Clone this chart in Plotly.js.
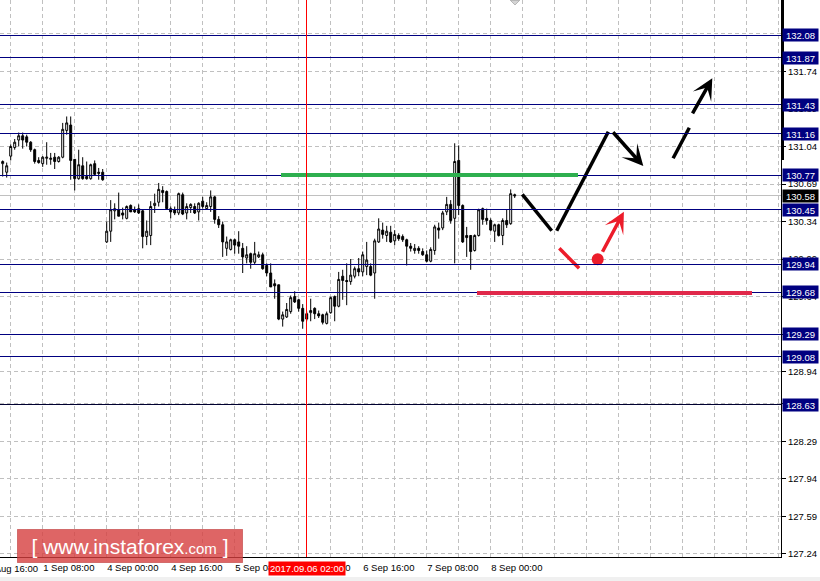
<!DOCTYPE html>
<html><head><meta charset="utf-8">
<script src="https://cdn.plot.ly/plotly-3.0.1.min.js"></script>
<style>html,body{margin:0;padding:0;background:#fff;}#chart{width:820px;height:581px;}
#chart .shapelayer path{shape-rendering:crispEdges;}</style>
</head><body><div id="chart"></div>
<script>
// H1 candles, x = trading-hour index (0 = 31 Aug 22:00)
const open=[130.88,130.80,130.95,131.03,131.10,131.14,131.13,131.08,131.01,130.91,
130.88,130.93,130.92,130.94,130.90,130.94,131.19,131.24,130.92,130.74,
130.86,130.76,130.74,130.88,130.80,130.80,130.15,130.25,130.44,130.45,
130.42,130.37,130.49,130.45,130.46,130.44,130.20,130.21,130.49,130.52,
130.63,130.62,130.46,130.45,130.42,130.59,130.42,130.47,130.48,130.43,
130.53,130.46,130.48,130.57,130.36,130.31,130.09,130.08,130.17,130.15,
130.09,130.00,130.04,129.96,130.01,130.03,129.93,129.86,129.76,129.75,
129.43,129.45,129.50,129.64,129.61,129.53,129.48,129.49,129.53,129.48,
129.47,129.39,129.49,129.64,129.55,129.83,129.79,129.78,129.83,129.90,
129.87,129.92,129.92,129.86,130.15,130.26,130.21,130.24,130.16,130.21,
130.20,130.17,130.11,130.07,130.09,130.06,130.03,129.97,130.07,130.28,
130.28,130.43,130.50,130.37,130.91,130.49,130.21,130.21,130.07,130.21,
130.46,130.37,130.35,130.25,130.31,130.21,130.35,130.32,130.59];
const high=[130.91,130.89,131.06,131.11,131.17,131.17,131.15,131.09,131.02,130.94,
130.95,131.08,130.98,130.98,130.95,131.26,131.32,131.32,130.92,131.01,
130.94,130.90,130.88,130.91,130.84,130.83,130.34,130.54,130.51,130.61,
130.47,130.49,130.50,130.48,130.50,130.45,130.35,130.53,130.60,130.70,
130.67,130.63,130.48,130.48,130.61,130.61,130.51,130.51,130.51,130.52,
130.57,130.52,130.63,130.58,130.39,130.34,130.20,130.18,130.18,130.25,
130.14,130.11,130.05,130.15,130.06,130.05,129.95,129.95,129.80,129.75,
129.50,129.58,129.65,129.69,129.62,129.57,129.50,129.62,129.54,129.51,
129.48,129.50,129.64,129.65,129.87,129.89,129.95,129.99,129.92,130.00,
130.06,130.15,129.95,130.18,130.37,130.33,130.30,130.30,130.26,130.23,
130.22,130.18,130.14,130.13,130.11,130.09,130.07,130.10,130.31,130.33,
130.44,130.57,130.54,131.07,131.05,130.50,130.29,130.21,130.22,130.46,
130.47,130.46,130.37,130.32,130.32,130.37,130.45,130.64,130.60];
const low=[130.76,130.75,130.91,131.01,131.04,131.02,131.04,130.99,130.88,130.88,
130.85,130.87,130.87,130.83,130.89,130.93,131.15,130.73,130.63,130.73,
130.73,130.73,130.73,130.77,130.73,130.72,130.14,130.15,130.36,130.39,
130.36,130.36,130.43,130.42,130.41,130.09,130.12,130.12,130.42,130.48,
130.52,130.45,130.37,130.40,130.40,130.40,130.36,130.42,130.41,130.35,
130.46,130.45,130.43,130.32,130.28,130.01,130.02,130.07,130.04,130.04,
129.86,129.95,129.90,129.94,130.00,129.89,129.83,129.73,129.62,129.42,
129.36,129.44,129.48,129.58,129.50,129.34,129.41,129.41,129.43,129.44,
129.38,129.38,129.48,129.41,129.54,129.61,129.56,129.75,129.81,129.83,
129.83,129.84,129.83,129.62,130.14,130.18,130.15,130.14,130.12,130.16,
130.15,129.93,130.06,130.04,130.04,130.02,129.96,129.96,130.03,130.18,
130.26,130.40,130.32,129.95,130.40,130.14,130.01,129.89,130.06,130.20,
130.31,130.31,130.25,130.15,130.20,130.12,130.28,130.31,130.56];
const close=[130.90,130.86,131.04,131.08,131.14,131.10,131.08,131.01,130.90,130.89,
130.94,130.94,130.93,130.90,130.94,131.20,131.26,130.91,130.74,130.87,
130.74,130.74,130.87,130.78,130.79,130.73,130.25,130.45,130.46,130.39,
130.40,130.48,130.43,130.43,130.42,130.20,130.25,130.48,130.51,130.64,
130.61,130.46,130.43,130.42,130.60,130.41,130.48,130.50,130.42,130.51,
130.48,130.49,130.57,130.36,130.31,130.15,130.15,130.17,130.12,130.11,
130.01,130.03,129.96,130.04,130.03,129.90,129.86,129.73,129.74,129.43,
129.47,129.52,129.63,129.59,129.53,129.41,129.43,129.51,129.48,129.46,
129.40,129.48,129.63,129.55,129.80,129.79,129.78,129.84,129.90,129.87,
130.03,129.98,129.84,130.16,130.27,130.22,130.25,130.15,130.22,130.18,
130.17,130.11,130.09,130.09,130.07,130.03,129.97,130.08,130.29,130.26,
130.42,130.50,130.35,130.90,130.49,130.15,130.19,130.06,130.21,130.45,
130.36,130.35,130.26,130.31,130.21,130.35,130.31,130.60,130.58];
const barIndex=open.map((_,i)=>i);

const timeTickVals=[10,26,42,58,74,90,106,122];
const timeTickText=['1 Sep 08:00','4 Sep 00:00','4 Sep 16:00','5 Sep 08:00','6 Sep 00:00','6 Sep 16:00','7 Sep 08:00','8 Sep 00:00'];
const firstTimeLabel='31 Aug 16:00', firstTimeX=-6;
const cursorTimeLabel='2017.09.06 02:00', cursorTimeX=76;

const priceTickVals=[127.24,127.59,127.94,128.29,128.64,128.94,129.29,129.64,129.99,130.34,130.69,131.04,131.39,131.74,132.09];
const priceTickText=['127.24','127.59','127.94','128.29','128.64','128.94','129.29','129.64','129.99','130.34','130.69','131.04','131.39','131.74','132.09'];
const levelPrices=[132.08,131.87,131.43,131.16,130.77,130.45,129.94,129.68,129.29,129.08,128.63];
const levelLabels=['132.08','131.87','131.43','131.16','130.77','130.45','129.94','129.68','129.29','129.08','128.63'];
const currentPrice=130.58, currentLabel='130.58';

// marked zones
const greenZone={x:[69.6,143.8],y:130.775};
const redZone={x:[118.6,187.3],y:129.675};

// forecast paths
const mainPathX=[129.9,137.25,null,138.5,151.4];
const mainPathY=[130.594,130.254,null,130.254,131.178];
const mainArrow={x0:152.25,y0:131.187,x1:160.15,y1:130.858};
const altPathX=[167.6,171.65];
const altPathY=[130.93,131.215];
const altArrow={x0:172.25,y0:131.334,x1:177.4,y1:131.676};
const redPathX=[139.15,144.1];
const redPathY=[130.09,129.904];
const redDot={x:148.75,y:129.988};
const redArrow={x0:149.75,y0:130.044,x1:155.3,y1:130.432};

const X_RANGE=[-0.675,194.575], PX_PER_BAR=4;
const FONT='Liberation Sans, Arial, sans-serif';
const NAVY='#000080';

const traces=[
 {type:'candlestick',x:barIndex,open:open,high:high,low:low,close:close,
  increasing:{line:{color:'#000',width:1},fillcolor:'#fff'},
  decreasing:{line:{color:'#000',width:1},fillcolor:'#000'},
  whiskerwidth:0,hoverinfo:'skip',showlegend:false},
 {type:'scatter',mode:'lines',x:mainPathX,y:mainPathY,line:{color:'#000',width:3.5},hoverinfo:'skip',showlegend:false},
 {type:'scatter',mode:'lines',x:altPathX,y:altPathY,line:{color:'#000',width:3.5},hoverinfo:'skip',showlegend:false},
 {type:'scatter',mode:'lines',x:redPathX,y:redPathY,line:{color:'#ec1c2a',width:3.5},hoverinfo:'skip',showlegend:false},
 {type:'scatter',mode:'markers',x:[redDot.x],y:[redDot.y],marker:{color:'#ec1c2a',size:12},hoverinfo:'skip',showlegend:false}
];

const shapes=[
 {type:'rect',xref:'paper',yref:'paper',x0:-0.01,x1:1.06,y0:-0.036,y1:-0.06,fillcolor:'#f0f0f0',line:{width:0},layer:'below'},
 {type:'line',xref:'paper',yref:'y',x0:0,x1:1,y0:currentPrice,y1:currentPrice,line:{color:'#c0c0c0',width:1},layer:'below'},
 {type:'path',xref:'paper',yref:'paper',path:'M 0.6530,1 L 0.6594,0.9910 L 0.6658,1 Z',fillcolor:'#d4d4d4',line:{color:'#b8b8b8',width:1}}
];
levelPrices.forEach((v,i)=>shapes.push({type:'line',xref:'paper',yref:'y',x0:0,x1:1,y0:v,y1:v,
  line:{color:v===128.63?'#000030':NAVY,width:1}}));
shapes.push({type:'line',xref:'x',yref:'y',x0:greenZone.x[0],x1:greenZone.x[1],y0:greenZone.y,y1:greenZone.y,line:{color:'#2eaf4f',width:3.5}});
shapes.push({type:'line',xref:'x',yref:'y',x0:redZone.x[0],x1:redZone.x[1],y0:redZone.y,y1:redZone.y,line:{color:'#e0284a',width:3.5}});
shapes.push({type:'line',xref:'x',yref:'paper',x0:cursorTimeX,x1:cursorTimeX,y0:0,y1:1,line:{color:'#ff0000',width:1}});
shapes.push({type:'line',xref:'paper',yref:'paper',x0:1.0015,x1:1.0015,y0:0.713,y1:1,line:{color:'#000',width:3}});

const annotations=[];
levelPrices.forEach((v,i)=>annotations.push({xref:'paper',x:1,xanchor:'left',xshift:1,yref:'y',y:v,yanchor:'middle',
  text:levelLabels[i],showarrow:false,bgcolor:NAVY,borderpad:1,width:33,height:10,align:'center',
  font:{family:FONT,size:9.5,color:'#fff'}}));
annotations.push({xref:'paper',x:1,xanchor:'left',xshift:1,yref:'y',y:currentPrice,yanchor:'middle',
  text:currentLabel,showarrow:false,bgcolor:'#000',borderpad:1,width:33,height:10,align:'center',
  font:{family:FONT,size:9.5,color:'#fff'}});
annotations.push({xref:'x',x:cursorTimeX,xanchor:'center',yref:'paper',y:-0.007,yanchor:'top',
  text:cursorTimeLabel,showarrow:false,bgcolor:'#ff0000',borderpad:1,font:{family:FONT,size:9.5,color:'#fff'}});
annotations.push({xref:'x',x:X_RANGE[0],xanchor:'left',yref:'paper',y:-0.007,yanchor:'top',
  xshift:(firstTimeX-X_RANGE[0])*PX_PER_BAR+1,
  text:firstTimeLabel,showarrow:false,font:{family:FONT,size:9.5,color:'#000'}});
[[mainArrow,'#000'],[altArrow,'#000'],[redArrow,'#ec1c2a']].forEach(([a,c])=>annotations.push({
  xref:'x',yref:'y',axref:'x',ayref:'y',x:a.x1,y:a.y1,ax:a.x0,ay:a.y0,text:'',showarrow:true,
  arrowhead:3,arrowsize:1,arrowwidth:3.5,arrowcolor:c,standoff:0}));
annotations.push({xref:'paper',yref:'paper',x:0.0218,xanchor:'left',y:0.0494,yanchor:'top',
  width:222,height:30,align:'center',valign:'middle',
  text:'[ www.instaforex<span style="font-size:15px">.com</span> ]',showarrow:false,
  bgcolor:'rgba(214,62,62,0.8)',bordercolor:'rgba(190,60,60,0.6)',borderwidth:1,borderpad:1,
  font:{family:FONT,size:21,color:'#fff'}});

const layout={
 width:820,height:581,margin:{l:0,r:39,t:0,b:24},
 paper_bgcolor:'#fff',plot_bgcolor:'#fff',showlegend:false,
 xaxis:{range:X_RANGE,tickmode:'array',tickvals:timeTickVals,ticktext:timeTickText,
  ticks:'',ticklabelposition:'outside right',ticklabelstandoff:2,tickfont:{family:FONT,size:9.5,color:'#000'},
  showgrid:false,zeroline:false,showline:true,linecolor:'#000',linewidth:1,
  rangeslider:{visible:false},fixedrange:true,
  minor:{tickmode:'linear',tick0:2,dtick:8,showgrid:true,gridcolor:'#c0c0c0',griddash:'4px,3px',gridwidth:1,ticks:''}},
 yaxis:{side:'right',range:[127.2108,132.4065],tickmode:'array',tickvals:priceTickVals,ticktext:priceTickText,
  ticks:'outside',ticklen:4,tickcolor:'#000',tickfont:{family:FONT,size:9.5,color:'#000'},
  showgrid:true,gridcolor:'#c0c0c0',griddash:'4px,3px',gridwidth:1,zeroline:false,
  showline:true,linecolor:'#000',linewidth:1,fixedrange:true},
 shapes:shapes,annotations:annotations
};
Plotly.newPlot('chart',traces,layout,{staticPlot:true,displayModeBar:false});
</script></body></html>
